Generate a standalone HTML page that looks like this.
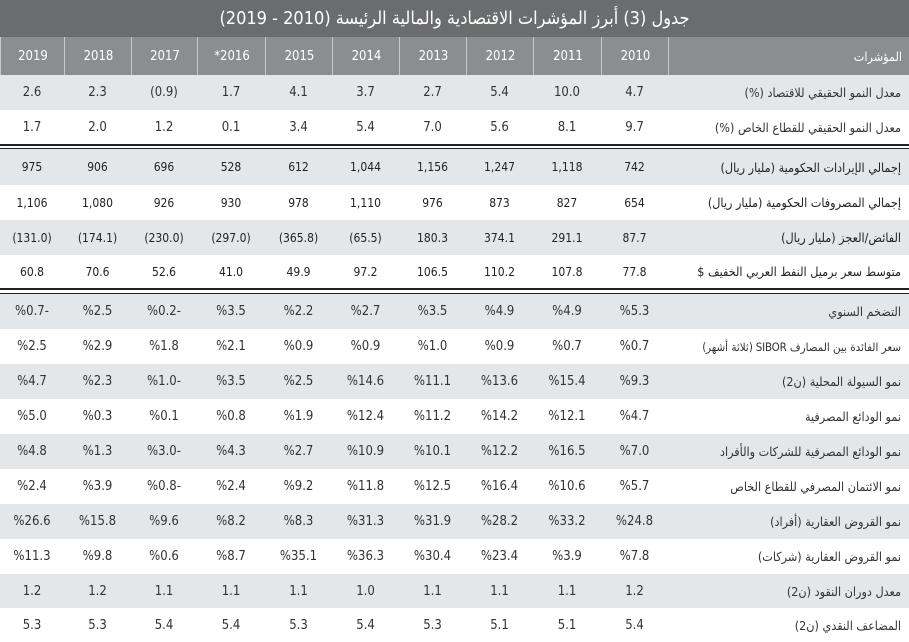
<!DOCTYPE html>
<html><head><meta charset="utf-8"><style>
body{margin:0;width:909px;height:642px;overflow:hidden;background:#fff;font-family:"Liberation Sans Narrow","DejaVu Sans Condensed","Liberation Sans","Noto Sans CJK SC",sans-serif;}
.title{position:absolute;left:0;top:0;width:909px;height:37px;background:#6b6c6e;color:#fff;font-size:18px;line-height:37px;text-align:center;direction:rtl;}
.row{position:absolute;left:0;width:909px;}
.row div{position:absolute;top:0;height:100%;display:flex;align-items:center;justify-content:center;font-size:13px;color:#333;white-space:nowrap;}
.row .lab{left:668px;width:233px;justify-content:flex-start;direction:rtl;padding-right:8px;font-size:12.5px;letter-spacing:-0.2px;}
.hdr{background:#8c8d8f;}
.hdr div{color:#fff;border-left:1px solid #c8c9cb;}
.g{background:#e4e7ea;}
.b div{font-family:"DejaVu Sans Condensed","Liberation Sans",sans-serif;font-size:12px;color:#222;}
.line{position:absolute;left:0;width:909px;height:2px;background:#222;}
</style></head><body>
<div class="title">جدول (3) أبرز المؤشرات الاقتصادية والمالية الرئيسة (2010 - 2019)</div>
<div id="t"></div>
<div class="line" style="top:144px"></div>
<div class="line" style="top:148px;height:1px"></div>
<div class="line" style="top:288px"></div>
<div class="line" style="top:293px;height:1px"></div>
<script>
const cols=[0,64,131,197,265,332,399,466,533,601,668];
const rows=[
["hdr",37,38,"المؤشرات",["2019","2018","2017","*2016","2015","2014","2013","2012","2011","2010"]],
["g",75,35,"معدل النمو الحقيقي للاقتصاد (%)",["2.6","2.3","(0.9)","1.7","4.1","3.7","2.7","5.4","10.0","4.7"]],
["",110,34,"معدل النمو الحقيقي للقطاع الخاص (%)",["1.7","2.0","1.2","0.1","3.4","5.4","7.0","5.6","8.1","9.7"]],
["g b",149,36,"إجمالي الإيرادات الحكومية (مليار ريال)",["975","906","696","528","612","1,044","1,156","1,247","1,118","742"]],
["b",185,35,"إجمالي المصروفات الحكومية (مليار ريال)",["1,106","1,080","926","930","978","1,110","976","873","827","654"]],
["g b",220,35,"الفائض/العجز (مليار ريال)",["(131.0)","(174.1)","(230.0)","(297.0)","(365.8)","(65.5)","180.3","374.1","291.1","87.7"]],
["b",255,33,"متوسط سعر برميل النفط العربي الخفيف $",["60.8","70.6","52.6","41.0","49.9","97.2","106.5","110.2","107.8","77.8"]],
["g",294,35,"التضخم السنوي",["%0.7-","%2.5","%0.2-","%3.5","%2.2","%2.7","%3.5","%4.9","%4.9","%5.3"]],
["",329,35,"<span style='font-size:11.5px'>سعر الفائدة بين المصارف SIBOR (ثلاثة أشهر)</span>",["%2.5","%2.9","%1.8","%2.1","%0.9","%0.9","%1.0","%0.9","%0.7","%0.7"]],
["g",364,35,"نمو السيولة المحلية (ن2)",["%4.7","%2.3","%1.0-","%3.5","%2.5","%14.6","%11.1","%13.6","%15.4","%9.3"]],
["",399,35,"نمو الودائع المصرفية",["%5.0","%0.3","%0.1","%0.8","%1.9","%12.4","%11.2","%14.2","%12.1","%4.7"]],
["g",434,35,"نمو الودائع المصرفية للشركات والأفراد",["%4.8","%1.3","%3.0-","%4.3","%2.7","%10.9","%10.1","%12.2","%16.5","%7.0"]],
["",469,35,"نمو الائتمان المصرفي للقطاع الخاص",["%2.4","%3.9","%0.8-","%2.4","%9.2","%11.8","%12.5","%16.4","%10.6","%5.7"]],
["g",504,35,"نمو القروض العقارية (أفراد)",["%26.6","%15.8","%9.6","%8.2","%8.3","%31.3","%31.9","%28.2","%33.2","%24.8"]],
["",539,35,"نمو القروض العقارية (شركات)",["%11.3","%9.8","%0.6","%8.7","%35.1","%36.3","%30.4","%23.4","%3.9","%7.8"]],
["g",574,34,"معدل دوران النقود (ن2)",["1.2","1.2","1.1","1.1","1.1","1.0","1.1","1.1","1.1","1.2"]],
["",608,34,"المضاعف النقدي (ن2)",["5.3","5.3","5.4","5.4","5.3","5.4","5.3","5.1","5.1","5.4"]]];
let h="";
for(const [c,y,hh,l,v] of rows){
 h+=`<div class="row ${c}" style="top:${y}px;height:${hh}px">`;
 v.forEach((s,i)=>{h+=`<div style="left:${cols[i]}px;width:${cols[i+1]-cols[i]}px;direction:ltr">${s}</div>`;});
 h+=`<div class="lab">${l}</div></div>`;
}
document.getElementById("t").innerHTML=h;
</script>
</body></html>
